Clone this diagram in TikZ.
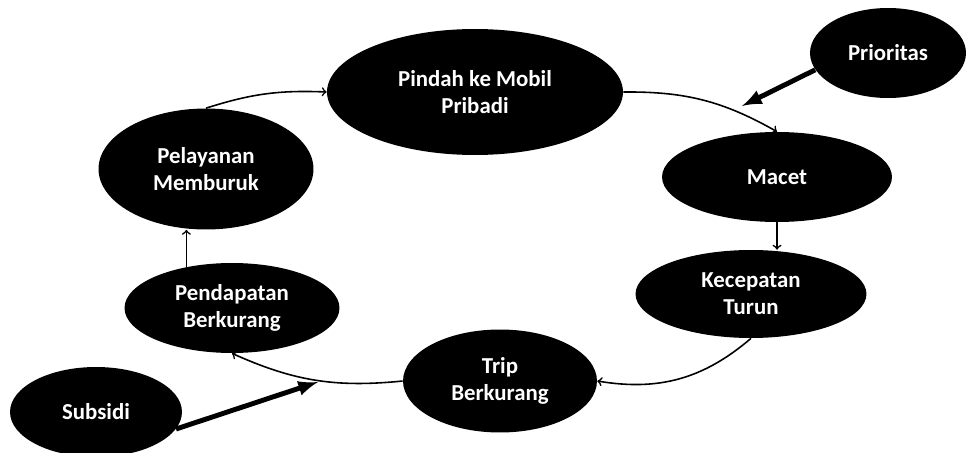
\documentclass[tikz,border=0pt]{standalone}
\usepackage{fontspec}
\setmainfont{Carlito}
\usetikzlibrary{shapes.geometric,arrows,calc,positioning}

\begin{document}
\begin{tikzpicture}[x=0.02cm,y=-0.02cm,
  every node/.style={bubble},
  bubble/.style={ellipse,fill=black,text=white,inner sep=0pt,align=center,
    font=\fontsize{13}{15.5}\selectfont\bfseries},
  link/.style={->,line width=0.9pt},
  push/.style={-latex,line width=2.8pt}]

        \useasboundingbox (0,0) rectangle (971,453);

        \node (pindah) [minimum width=5.92cm,minimum height=2.52cm] at (475,92) {Pindah ke Mobil\\Pribadi};
        \node (prioritas) [minimum width=3.12cm,minimum height=1.8cm] at (888,53) {Prioritas};
        \node (macet) [minimum width=4.6cm,minimum height=1.8cm] at (777,177) {Macet};
        \node (kecepatan) [minimum width=4.62cm,minimum height=1.76cm] at (751,294) {Kecepatan\\Turun};
        \node (trip) [minimum width=3.88cm,minimum height=2.06cm] at (500,381) {Trip\\Berkurang};
        \node (pendapatan) [minimum width=4.3cm,minimum height=1.8cm] at (232,308) {Pendapatan\\Berkurang};
        \node (pelayanan) [minimum width=4.3cm,minimum height=2.42cm] at (206,169) {Pelayanan\\Memburuk};
        \node (subsidi) [minimum width=3.44cm,minimum height=1.8cm] at (96,412) {Subsidi};

        \coordinate (prioTip) at (742,106);
        \coordinate (subTip) at (318,382);

        \draw[link] (pelayanan.north) to[bend left=10] (pindah.west);
        \draw[link] (pindah.east) to[bend left=15] (macet.north);
        \draw[link] (macet.south) -- (macet.south |- kecepatan.north);
        \draw[link] (kecepatan.south) to[bend left=25] (trip.east);
        \draw[link] (trip.west) to[bend left=15] (pendapatan.south);
        \draw[link] (pendapatan.138) -- (pendapatan.138 |- pelayanan.south);

        \draw[push] (prioritas.193) -- (prioTip);
        \draw[push] (subsidi.-12) -- (subTip);
      \end{tikzpicture}
\end{document}
